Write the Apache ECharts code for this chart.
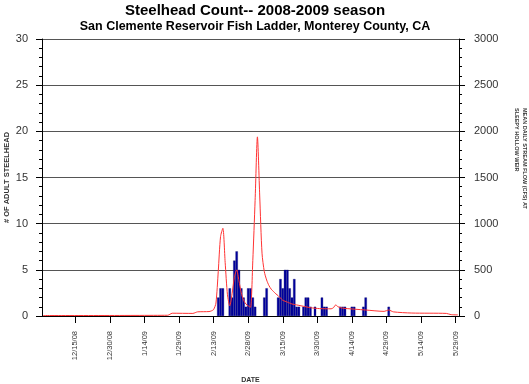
<!DOCTYPE html>
<html><head><meta charset="utf-8">
<script src="https://cdn.jsdelivr.net/npm/echarts@6/dist/echarts.min.js"></script>
<style>html,body{margin:0;padding:0;background:#fff}#c{width:529px;height:384px}</style>
</head><body><div id="c"></div>
<script>
// ---- data ----
const firstDay = '2008-12-01';
const dayCount = 181;
const tickLabels = ['12/15/08','12/30/08','1/14/09','1/29/09','2/13/09','2/28/09','3/15/09','3/30/09','4/14/09','4/29/09','5/14/09','5/29/09'];
const fishDates = ['2/15/09','2/16/09','2/17/09','2/20/09','2/21/09','2/22/09','2/23/09','2/24/09','2/25/09','2/26/09','2/27/09','2/28/09','3/1/09','3/2/09','3/3/09','3/7/09','3/8/09','3/13/09','3/14/09','3/15/09','3/16/09','3/17/09','3/18/09','3/19/09','3/20/09','3/21/09','3/22/09','3/24/09','3/25/09','3/26/09','3/27/09','3/29/09','4/1/09','4/2/09','4/3/09','4/9/09','4/10/09','4/11/09','4/14/09','4/15/09','4/19/09','4/20/09','4/30/09'];
const fishCounts = [2,3,3,3,2,6,7,5,3,2,1,3,3,2,1,2,3,2,4,3,5,5,3,2,4,1,1,1,2,2,1,1,2,1,1,1,1,1,1,1,1,2,1];
const flowDates = ['12/1/08','1/24/09','1/25/09','1/26/09','2/4/09','2/5/09','2/6/09','2/11/09','2/12/09','2/13/09','2/14/09','2/15/09','2/16/09','2/17/09','2/18/09','2/19/09','2/20/09','2/21/09','2/22/09','2/23/09','2/24/09','2/25/09','2/26/09','2/27/09','2/28/09','3/1/09','3/2/09','3/3/09','3/4/09','3/5/09','3/6/09','3/7/09','3/8/09','3/9/09','3/10/09','3/11/09','3/12/09','3/13/09','3/14/09','3/15/09','3/16/09','3/17/09','3/18/09','3/19/09','3/20/09','3/21/09','3/24/09','3/27/09','3/31/09','4/5/09','4/6/09','4/7/09','4/8/09','4/10/09','4/20/09','4/28/09','4/30/09','5/2/09','5/10/09','5/25/09','5/27/09','5/30/09'];
const flowValues = [5,8,18,30,28,36,45,48,55,70,140,480,860,950,580,230,110,240,420,500,380,250,170,130,110,95,600,1250,1940,1300,680,480,390,330,290,265,240,220,195,170,160,150,140,130,125,120,105,90,80,78,90,120,100,85,65,50,65,45,32,28,15,12];

// ---- build ----
const categories = [];
const d0 = new Date(firstDay + 'T12:00:00');
for (let i = 0; i < dayCount; i++) {
  const d = new Date(d0.getTime() + i * 86400000);
  categories.push((d.getMonth() + 1) + '/' + d.getDate() + '/' + String(d.getFullYear()).slice(2));
}
const tickSet = new Set(tickLabels);
const barData = categories.map(c => { const k = fishDates.indexOf(c); return k >= 0 ? fishCounts[k] : null; });
const lineData = categories.map(c => { const k = flowDates.indexOf(c); return k >= 0 ? flowValues[k] : null; });
const showTick = (i, v) => tickSet.has(v);
const FF = '"Liberation Sans", Arial, sans-serif';

const chart = echarts.init(document.getElementById('c'), null, {renderer: 'canvas'});
chart.setOption({
  animation: false,
  backgroundColor: '#fff',
  textStyle: {fontFamily: FF},
  title: {
    text: 'Steelhead Count-- 2008-2009 season',
    subtext: 'San Clemente Reservoir Fish Ladder, Monterey County, CA',
    left: 255, top: 3, textAlign: 'center', padding: 0, itemGap: 2,
    textStyle: {fontSize: 15, fontWeight: 'bold', color: '#000', fontFamily: FF},
    subtextStyle: {fontSize: 12.5, fontWeight: 'bold', color: '#000', fontFamily: FF}
  },
  grid: {left: 42, right: 70, top: 39, bottom: 68, containLabel: false, outerBoundsMode: 'none'},
  xAxis: {
    type: 'category', data: categories, boundaryGap: true,
    axisLine: {lineStyle: {color: '#000', width: 1}},
    axisTick: {show: true, alignWithLabel: true, interval: showTick, length: 7, lineStyle: {color: '#000'}},
    axisLabel: {interval: showTick, rotate: 90, fontSize: 7.5, margin: 15, color: '#333', fontFamily: FF},
    splitLine: {show: false},
    name: 'DATE', nameLocation: 'middle', nameGap: 61, nameMoveOverlap: false,
    nameTextStyle: {fontSize: 7, fontWeight: 'bold', color: '#333', fontFamily: FF}
  },
  yAxis: [{
    type: 'value', min: 0, max: 30, interval: 5, position: 'left',
    axisLine: {show: true, lineStyle: {color: '#000'}},
    axisTick: {show: true, length: 6, lineStyle: {color: '#000'}},
    minorTick: {show: true, splitNumber: 5, length: 3, lineStyle: {color: '#000'}},
    axisLabel: {color: '#333', fontSize: 11, margin: 14, fontFamily: FF, formatter: v => String(v)},
    splitLine: {show: true, lineStyle: {color: '#555', width: 1}},
    name: '# OF ADULT STEELHEAD', nameLocation: 'middle', nameGap: 31, nameRotate: 90, nameMoveOverlap: false,
    nameTextStyle: {fontSize: 7.5, fontWeight: 'bold', color: '#333', fontFamily: FF}
  }, {
    type: 'value', min: 0, max: 3000, interval: 500, position: 'right',
    axisLine: {show: true, lineStyle: {color: '#000'}},
    axisTick: {show: true, length: 6, lineStyle: {color: '#000'}},
    minorTick: {show: true, splitNumber: 5, length: 3, lineStyle: {color: '#000'}},
    axisLabel: {color: '#333', fontSize: 11, margin: 15, fontFamily: FF, formatter: v => String(v)},
    splitLine: {show: false}
  }],
  graphic: [{
    type: 'text', x: 521, y: 108, rotation: -Math.PI / 2,
    style: {
      text: 'MEAN DAILY STREAM FLOW (CFS) AT\nSLEEPY HOLLOW WEIR',
      fontSize: 5.5, fontWeight: 'bold', fill: '#333', fontFamily: FF,
      textAlign: 'left', textVerticalAlign: 'middle', lineHeight: 8
    }
  }],
  series: [{
    name: 'Steelhead', type: 'bar', yAxisIndex: 0, data: barData,
    barCategoryGap: '0%', barGap: '0%',
    itemStyle: {color: '#0000a0', borderColor: '#000060', borderWidth: 0.3},
    z: 2
  }, {
    name: 'Flow', type: 'line', yAxisIndex: 1, data: lineData,
    connectNulls: true, showSymbol: false, symbol: 'none', smooth: 0.25,
    lineStyle: {color: '#ff3333', width: 1},
    z: 3
  }]
});
</script></body></html>
